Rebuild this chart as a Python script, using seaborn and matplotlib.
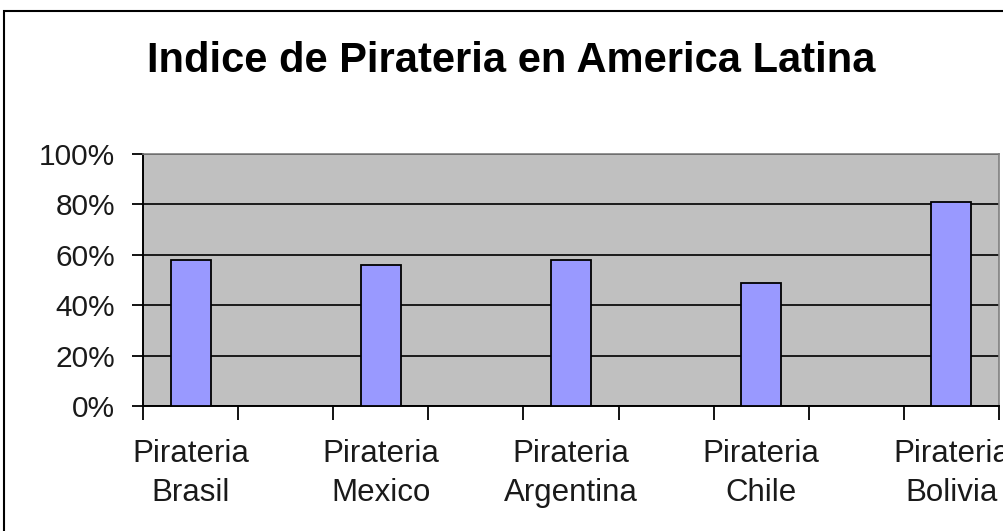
import matplotlib
matplotlib.use("Agg")
import matplotlib.pyplot as plt
import seaborn as sns
import pandas as pd
from matplotlib.patches import Rectangle

# Data
countries = ["Pirateria\nBrasil", "Pirateria\nMexico", "Pirateria\nArgentina",
             "Pirateria\nChile", "Pirateria\nBolivia"]
values = [0.58, 0.56, 0.58, 0.49, 0.81]
y_ticks = [0.0, 0.2, 0.4, 0.6, 0.8, 1.0]
y_labels = ["0%", "20%", "40%", "60%", "80%", "100%"]
title = "Indice de Pirateria en America Latina"

# Excel layout with blank columns between the countries
spacers = [" " * (i + 1) for i in range(len(countries) - 1)]
order = []
for i, c in enumerate(countries):
    order.append(c)
    if i < len(spacers):
        order.append(spacers[i])

df = pd.DataFrame({"pais": countries, "indice": values})

sns.set_theme(style="white")
plt.rcParams["font.family"] = ["Liberation Sans", "DejaVu Sans"]

fig = plt.figure(figsize=(10.04, 5.31), dpi=100)
ax = fig.add_axes([143 / 1004, 1 - 406 / 531, (999 - 143) / 1004, (406 - 154) / 531])

sns.barplot(data=df, x="pais", y="indice", order=order, color="#9999FF",
            saturation=1, edgecolor="black", linewidth=1.3, width=0.42, ax=ax,
            zorder=3)

ax.set_facecolor("#C0C0C0")
ax.set_ylim(0, 1)
ax.set_xlim(-0.5, len(order) - 0.5)
ax.set_yticks(y_ticks)
ax.set_yticklabels(y_labels, fontsize=21.5, color="#1a1a1a")
ax.yaxis.grid(True, color="#1a1a1a", linewidth=1.4)
ax.set_axisbelow(True)

# category boundaries as tick marks, labels at the country columns
bounds = [i - 0.5 for i in range(len(order) + 1)]
label_pos = [order.index(c) for c in countries]
ax.set_xticks(bounds)
ax.set_xticklabels([""] * len(bounds))
ax.set_xticks(label_pos, minor=True)
ax.set_xticklabels(countries, minor=True, fontsize=22.5, color="#1a1a1a",
                   linespacing=1.38)
ax.tick_params(axis="x", which="major", direction="out", length=10, width=1.3,
               color="black", bottom=True)
ax.tick_params(axis="x", which="minor", length=0, pad=24)
ax.tick_params(axis="y", direction="out", length=8, width=1.3, color="black",
               left=True, pad=12)

ax.set_xlabel("")
ax.set_ylabel("")

for s in ["left", "bottom"]:
    ax.spines[s].set_color("black")
    ax.spines[s].set_linewidth(1.4)
for s in ["top", "right"]:
    ax.spines[s].set_color("#808080")
    ax.spines[s].set_linewidth(1.2)
    ax.spines[s].set_visible(True)

fig.text(511 / 1004, 1 - 72.5 / 531, title, ha="center", va="baseline",
         fontsize=30, fontweight="bold", color="black")

# chart-area border
fig.patches.append(Rectangle((4 / 1004, -0.05), 1.1, 1 - 11 / 531 + 0.05,
                             transform=fig.transFigure, fill=False,
                             edgecolor="black", linewidth=1.5))

fig.savefig("out.png", dpi=100)
